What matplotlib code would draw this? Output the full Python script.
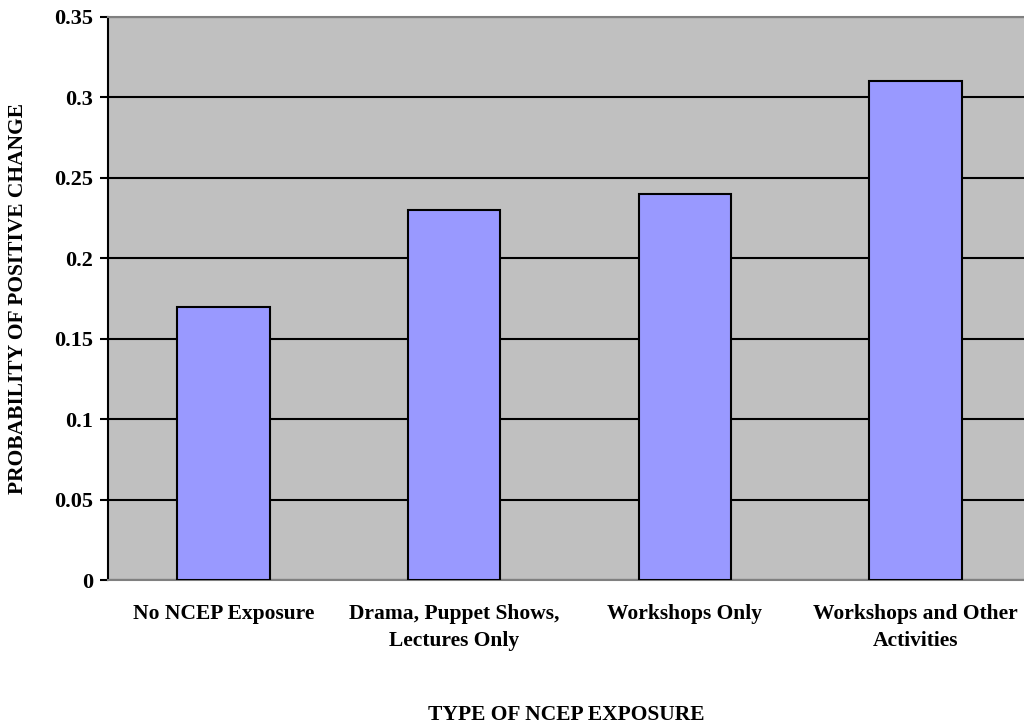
import matplotlib
matplotlib.use("Agg")
from matplotlib import pyplot as plt
import numpy as np

# Data
categories = ["No NCEP Exposure", "Drama, Puppet Shows,\nLectures Only",
              "Workshops Only", "Workshops and Other\nActivities"]
values = [0.17, 0.23, 0.24, 0.31]
yticks = [0, 0.05, 0.1, 0.15, 0.2, 0.25, 0.3, 0.35]
ytick_labels = ["0", "0.05", "0.1", "0.15", "0.2", "0.25", "0.3", "0.35"]

plt.rcParams['font.family'] = ['Liberation Serif', 'DejaVu Serif']
plt.rcParams['font.weight'] = 'bold'

fig = plt.figure(figsize=(10.24, 7.27), dpi=100)
W, H = 1024, 727
ax = fig.add_axes([108 / W, (H - 580) / H, 923 / W, 563 / H])
ax.set_facecolor('#C0C0C0')

x = np.arange(len(categories))
ax.bar(x, values, width=0.4, color='#9999FF', edgecolor='black', linewidth=1.5, zorder=3)

ax.set_xlim(-0.5, 3.5)
ax.set_ylim(0, 0.35)
ax.set_yticks(yticks)
ax.set_yticklabels(ytick_labels, fontsize=16, fontweight='bold')
ax.set_xticks(x)
ax.set_xticklabels(categories, fontsize=15.5, fontweight='bold', linespacing=1.5)
ax.tick_params(axis='x', length=0, pad=17)
ax.tick_params(axis='y', length=6, width=1.5, direction='out', pad=4.5)

ax.yaxis.grid(True, color='black', linewidth=1.5, zorder=1)
ax.set_axisbelow(True)

ax.spines['left'].set_color('black')
ax.spines['left'].set_linewidth(1.5)
ax.spines['top'].set_color('#808080')
ax.spines['top'].set_linewidth(1.5)
ax.spines['bottom'].set_color('#808080')
ax.spines['bottom'].set_linewidth(1.5)
ax.spines['right'].set_visible(False)

fig.text(566 / W, 1 - 715 / H, "TYPE OF NCEP EXPOSURE", ha='center', va='center',
         fontsize=15.5, fontweight='bold')
fig.text(18 / W, 1 - 298 / H, "PROBABILITY OF POSITIVE CHANGE", ha='center', va='center',
         rotation=90, fontsize=15.5, fontweight='bold')

fig.savefig("out.png", dpi=100)
